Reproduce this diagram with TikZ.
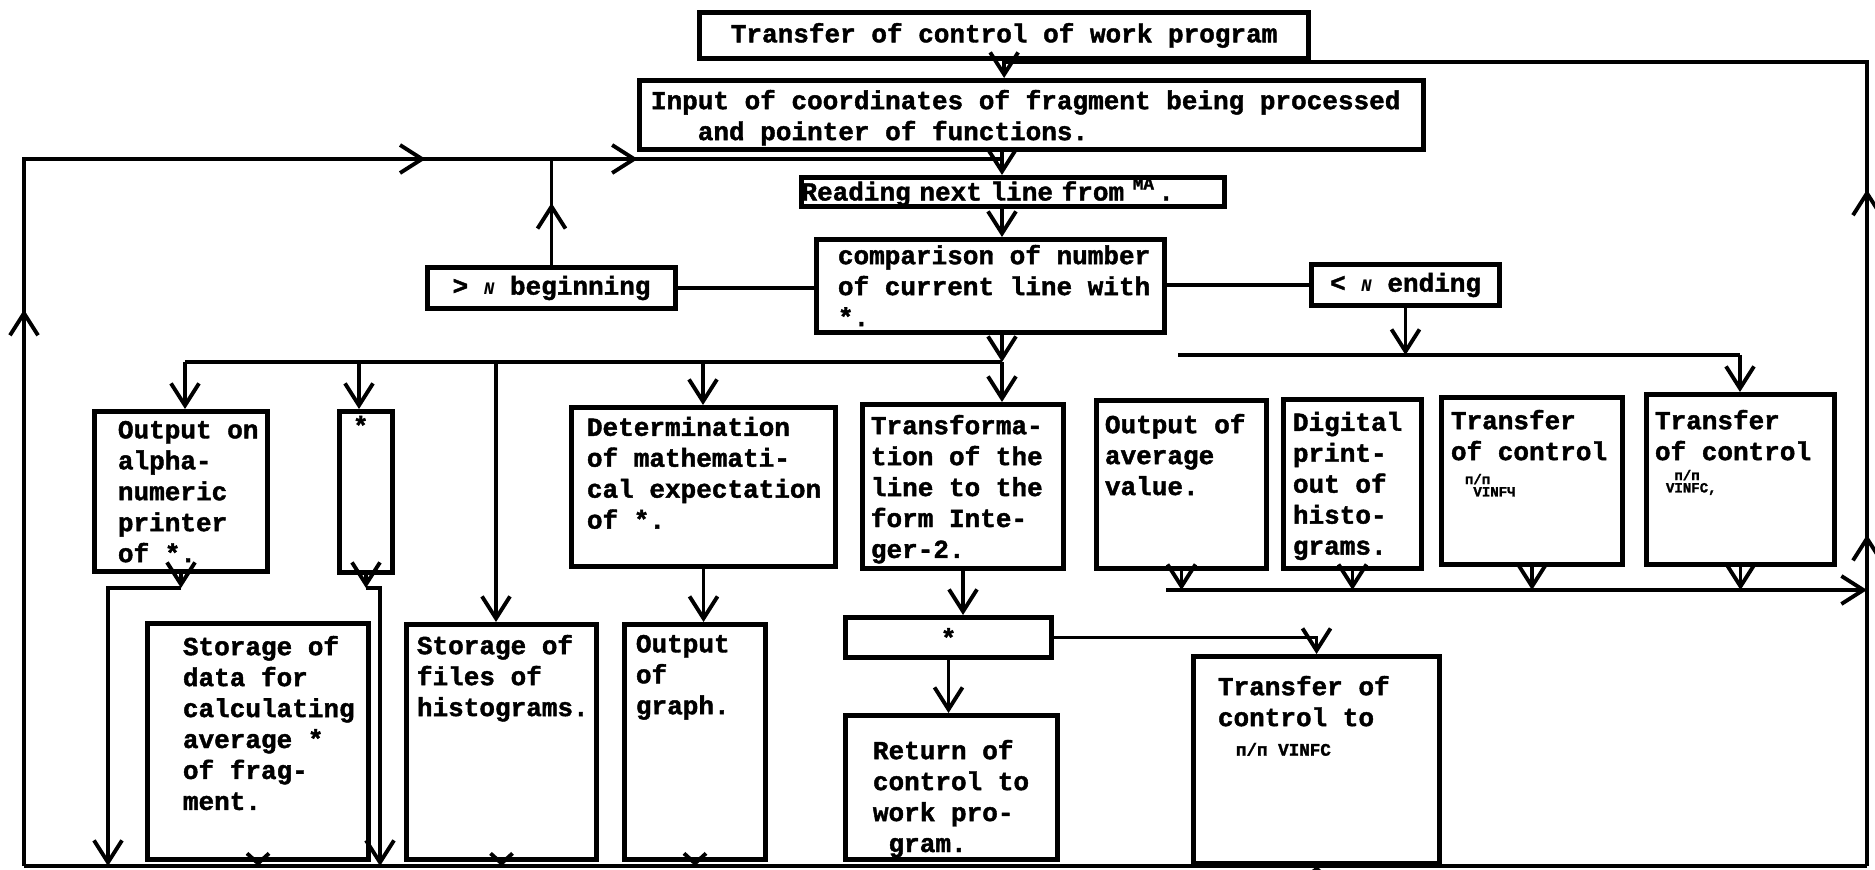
\documentclass[tikz,border=0pt]{standalone}
\usepackage{fontspec}
\usepackage{tikz}
\usetikzlibrary{arrows.meta,decorations.markings}

\newfontfamily\typew{Liberation Mono}[BoldFeatures={FakeBold=1.6}]
\newcommand{\tw}{\typew\bfseries\fontsize{7.4}{8.8}\selectfont}
\newcommand{\smfont}{\typew\bfseries\fontsize{4}{3.5}\selectfont}
\newcommand{\midfont}{\typew\bfseries\fontsize{5}{5}\selectfont}

\tikzset{
  blk/.style={draw, line width=1.4pt, anchor=north west, inner sep=0pt, font=\tw},
  txt/.style={anchor=north west, align=left, inner sep=0pt, font=\tw},
  midarr/.style={postaction={decorate, decoration={markings, mark=at position #1 with {\arrow{>}}}}},
  shortarr/.style={-{Straight Barb[length=1mm,width=2.2mm]}},
}

\begin{document}
\begin{tikzpicture}[x=0.01cm, y=-0.01cm, line width=1.1pt, >={Straight Barb[length=2.2mm,width=2.8mm]}]
    \useasboundingbox (0,0) rectangle (1875,870);

    \begin{scope}[every node/.style=blk]
        \node[minimum width=60.9mm, minimum height=4.6mm] (1) at (697,10) {Transfer of control of work program};
        \node[minimum width=78.4mm, minimum height=6.9mm] (2) at (637,78) {};
        \node[minimum height=2.9mm, text width=42.3mm, align=left] (3) at (799,175) {Reading next line from \raisebox{.8ex}{\midfont MA}\,.};
        \node[minimum width=34.8mm, minimum height=9.3mm] (4) at (814,237) {};
        \node[minimum width=24.8mm, minimum height=4.1mm] (5) at (425,265) {> {\midfont\itshape N} beginning};
        \node[minimum width=18.8mm, minimum height=4.1mm] (6) at (1309,262) {< {\midfont\itshape N} ending};

        \node[minimum width=17.3mm, minimum height=16.0mm] (7) at (92,409) {};
        \node[minimum width=5.3mm, minimum height=16.1mm] (8) at (337,409) {};
        \node[minimum width=26.4mm, minimum height=15.9mm] (9) at (569,405) {};
        \node[minimum width=20.1mm, minimum height=16.4mm] (10) at (860,402) {};
        \node[minimum width=17.0mm, minimum height=16.8mm] (11) at (1094,398) {};
        \node[minimum width=13.8mm, minimum height=16.9mm] (12) at (1281,397) {};
        \node[minimum width=18.1mm, minimum height=16.7mm] (13) at (1439,395) {};
        \node[minimum width=18.8mm, minimum height=17.0mm] (14) at (1644,392) {};

        \node[minimum width=22.1mm, minimum height=23.6mm] (15) at (145,621) {};
        \node[minimum width=19.0mm, minimum height=23.5mm] (16) at (404,622) {};
        \node[minimum width=14.1mm, minimum height=23.5mm] (17) at (622,622) {};
        \node[minimum width=20.6mm, minimum height=4.0mm] (18) at (843,615) {*};
        \node[minimum width=21.2mm, minimum height=14.4mm] (19) at (843,713) {};
        \node[minimum width=24.6mm, minimum height=20.7mm] (20) at (1191,654) {};
    \end{scope}

    \begin{scope}[every node/.style=txt]
        \node (t2) at ([shift={(12,10)}]2.north west) {Input of coordinates of fragment being processed\\\phantom{xxx}and pointer of functions.};
        \node (t4) at ([shift={(22,6)}]4.north west) {comparison of number\\of current line with\\*.};
        \node (t7) at ([shift={(24,10)}]7.north west) {Output on\\alpha-\\numeric\\printer\\of *.};
        \node (t8) at ([shift={(14,5)}]8.north west) {*};
        \node (t9) at ([shift={(16,10)}]9.north west) {Determination\\of mathemati-\\cal expectation\\of *.};
        \node (t10) at ([shift={(9,11)}]10.north west) {Transforma-\\tion of the\\line to the\\form Inte-\\ger-2.};
        \node (t11) at ([shift={(9,14)}]11.north west) {Output of\\average\\value.};
        \node (t12) at ([shift={(10,13)}]12.north west) {Digital\\print-\\out of\\histo-\\grams.};
        \node (t13) at ([shift={(10,13)}]13.north west) {Transfer\\of control};
        \node (t14) at ([shift={(9,16)}]14.north west) {Transfer\\of control};
        \node (t15) at ([shift={(36,13)}]15.north west) {Storage of\\data for\\calculating\\average *\\of frag-\\ment.};
        \node (t16) at ([shift={(11,11)}]16.north west) {Storage of\\files of\\histograms.};
        \node (t17) at ([shift={(12,11)}]17.north west) {Output\\of\\graph.};
        \node (t19) at ([shift={(28,25)}]19.north west) {Return of\\control to\\work pro-\\\phantom{x}gram.};
        \node (t20) at ([shift={(25,20)}]20.north west) {Transfer of\\control to};
        % small subroutine names
        \node[font=\smfont] (s13) at (1463,472) {п/п\\\phantom{x}VINFЧ};
        \node[font=\smfont] (s14) at (1664,468) {\phantom{x}п/п\\VINFC,};
        \node[font=\midfont] (s20) at (1234,741) {п/п VINFC};
    \end{scope}

    % junctions
    \coordinate (bl) at (24,866);
    \coordinate (br) at (1867,866);
    \coordinate (tl) at (24,159);
    \coordinate (tm) at (1002,159);
    \coordinate (tr) at (1867,62);
    \coordinate (tt) at (1002,62);
    \coordinate (c) at (1002,362);
    \coordinate (b1) at (185,362);
    \coordinate (b2) at (359,362);
    \coordinate (b3) at (496,362);
    \coordinate (b4) at (703,362);
    \coordinate (e1) at (1178,355);
    \coordinate (e2) at (1740,355);
    \coordinate (r1) at (1166,590);
    \coordinate (r2) at (1867,590);
    \coordinate (a1) at (108,588);
    \coordinate (s1) at (380,588);

    % top part
    \draw[->] (1.south) -- (1.south |- 2.north);
    \draw[->] (2.south -| tm) -- (3.north -| tm);
    \draw[->] (3.south -| tm) -- (4.north -| tm);
    \draw (5.east) -- (5.east -| 4.west);
    \draw (6.west) -- (6.west -| 4.east);
    \draw[midarr=0.62cm] (5.north) -- (5.north |- tl);
    \draw[->] (6.south) -- (6.south |- e1);
    \draw (e1) -- (e2);
    \draw[->] (e2) -- (e2 |- 14.north);

    % branches to the second row
    \draw[->] (4.south -| c) -- (c);
    \draw[->] (c) -- (c |- 10.north);
    \draw (c) -- (b1);
    \draw[->] (b1) -- (b1 |- 7.north);
    \draw[->] (b2) -- (b2 |- 8.north);
    \draw[->] (b3) -- (b3 |- 16.north);
    \draw[->] (b4) -- (b4 |- 9.north);

    % second row down
    \draw[->] (7.south) -- (7.south |- a1);
    \draw[->] (7.south |- a1) -- (a1) -- (a1 |- bl);
    \draw[->] (8.south) -- (8.south |- s1);
    \draw[->] (8.south |- s1) -- (s1) -- (s1 |- bl);
    \draw[->] (9.south) -- (9.south |- 17.north);
    \draw[->] (10.south) -- (10.south |- 18.north);
    \draw[->] (11.south) -- (11.south |- r1);
    \draw[->] (12.south) -- (12.south |- r1);
    \draw[->] (13.south) -- (13.south |- r1);
    \draw[->] (14.south) -- (14.south |- r1);
    \draw[->] (r1) -- (r2);

    % third row down
    \draw[->] (18.east) -| (20.north);
    \draw[->] (18.south) -- (18.south |- 19.north);
    \draw[shortarr] (15.south) -- (15.south |- bl);
    \draw[shortarr] (16.south) -- (16.south |- bl);
    \draw[shortarr] (17.south) -- (17.south |- bl);
    \draw[shortarr] (20.south) -- (20.south |- bl);

    % loops back
    \draw (bl) -- (br);
    \draw[midarr=5.56cm, midarr=11.08cm, midarr=13.2cm] (bl) -- (tl) -- (tm);
    \draw[midarr=3.31cm, midarr=6.76cm] (br) -- (tr) -- (tt);
\end{tikzpicture}
\end{document}
